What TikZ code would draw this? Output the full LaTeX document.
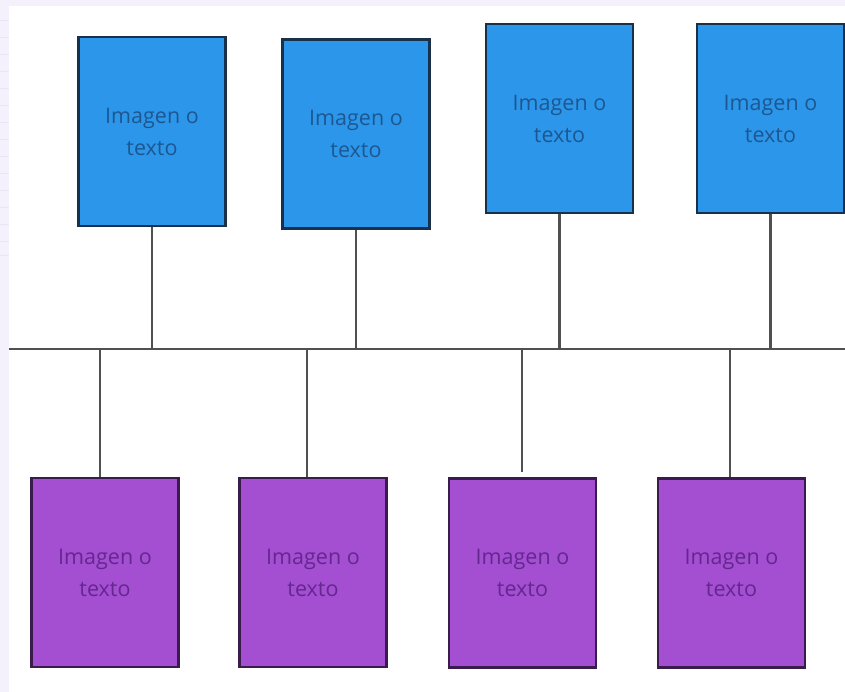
\documentclass[tikz,border=0pt]{standalone}
\usepackage{fontspec}
\setmainfont{Open Sans}
\definecolor{bgl}{HTML}{F4F0FC}
\definecolor{gridl}{HTML}{EAE5F4}
\definecolor{bluefill}{HTML}{2C97EA}
\definecolor{blueedge}{HTML}{18304A}
\definecolor{bluetext}{HTML}{1D5792}
\definecolor{purpfill}{HTML}{A44ED2}
\definecolor{purpedge}{HTML}{3A1C4C}
\definecolor{purptext}{HTML}{64278F}
\definecolor{linec}{HTML}{505050}
\tikzset{
  boxbase/.style={rectangle, draw, line width=2.6pt, minimum width=147pt, minimum height=189pt, inner sep=0pt, align=center, font=\fontsize{21.5}{32}\selectfont},
  bluebox/.style={boxbase, fill=bluefill, draw=blueedge, text=bluetext},
  purpbox/.style={boxbase, fill=purpfill, draw=purpedge, text=purptext},
  conn/.style={draw=linec, line width=2.8pt}
}
\begin{document}
\begin{tikzpicture}[x=1pt,y=-1pt]
\useasboundingbox (0,0) rectangle (845,692);
\fill[bgl] (0,0) rectangle (845,692);
\fill[white] (9,6) rectangle (845,692);
\foreach \yy in {20,37,54,71,88,105,122,139,156,173,190,207,224,241,255}
  \draw[gridl, line width=0.8pt] (0,\yy) -- (9,\yy);
% main line
\coordinate (L0) at (9,349);
\coordinate (L1) at (845,349);
\draw[conn] (L0) -- (L1);
% top boxes
\node[bluebox] (b1) at (152,131.5) {Imagen o\\texto};
\node[bluebox] (b2) at (356,134) {Imagen o\\texto};
\node[bluebox] (b3) at (559.5,118.5) {Imagen o\\texto};
\node[bluebox] (b4) at (770.5,118.5) {Imagen o\\texto};
% bottom boxes
\node[purpbox] (p1) at (105,572.5) {Imagen o\\texto};
\node[purpbox] (p2) at (313,572.5) {Imagen o\\texto};
\node[purpbox] (p3) at (522.5,573) {Imagen o\\texto};
\node[purpbox] (p4) at (731.5,573) {Imagen o\\texto};
% top connectors
\foreach \b in {b1,b2,b3,b4}
  \draw[conn] (\b.south) -- (\b.south |- L0);
% bottom connectors
\coordinate (d1) at (100,349);
\coordinate (d2) at (307,349);
\coordinate (d3) at (522,349);
\coordinate (d4) at (730,349);
\draw[conn] (d1) -- (d1 |- p1.north);
\draw[conn] (d2) -- (d2 |- p2.north);
\draw[conn] (d3) -- (522,472);
\draw[conn] (d4) -- (d4 |- p4.north);
\end{tikzpicture}
\end{document}
